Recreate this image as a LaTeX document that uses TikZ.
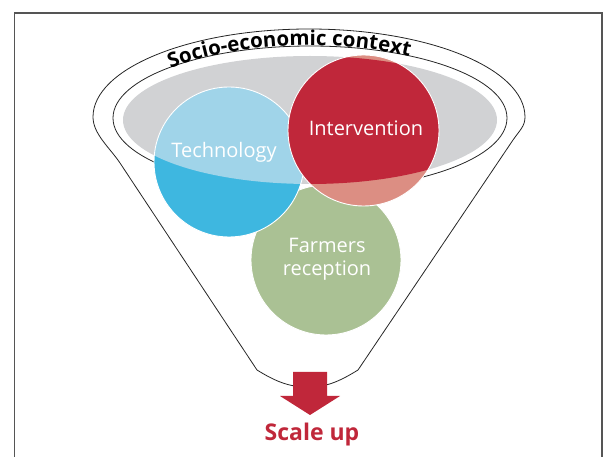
\documentclass[tikz,border=0pt]{standalone}
\usepackage{fontspec}
\setmainfont{Open Sans}
\usetikzlibrary{decorations.text}
\definecolor{grayell}{HTML}{D1D2D4}
\definecolor{bluedark}{HTML}{3EB7E0}
\definecolor{bluelight}{HTML}{A0D4E9}
\definecolor{redc}{HTML}{C0273A}
\definecolor{salmon}{HTML}{DC8E83}
\definecolor{greenc}{HTML}{AAC194}
\definecolor{framec}{HTML}{555555}
\tikzset{
  circ/.style={circle, minimum size=150pt, inner sep=0pt},
  circout/.style={draw=white, line width=0.9pt},
  lbl/.style={text=white, font=\fontsize{20}{23}\selectfont, align=center, inner sep=0pt},
  funnelline/.style={draw=black!85, line width=0.8pt},
  framebox/.style={draw=framec, line width=1.2pt},
}
\begin{document}
\begin{tikzpicture}[x=1pt,y=-1pt]
\useasboundingbox (0,0) rectangle (606,457);
\begin{scope}
\clip (0,0) rectangle (606,457);
\draw[framebox] (14.5,13) rectangle (602,480);
\end{scope}
% funnel outline
\draw[funnelline] (257,370) -- (120,163) .. controls (110,148) and (93,134) .. (93,117)
  arc[start angle=180, end angle=360, x radius=216, y radius=88]
  .. controls (525,126) and (520,130) .. (513,140) -- (358,370)
  .. controls (337,383) and (325,387) .. (308,387)
  .. controls (291,387) and (278,383) .. (257,370) -- cycle;
% inner ring and grey ellipse
\draw[funnelline] (310,118) ellipse[x radius=197, y radius=72];
\fill[grayell] (310,120) ellipse[x radius=187, y radius=64];
% title along the arc
\path[decorate, decoration={text along path, text align=center,
  text={|\fontsize{20.5}{20.5}\selectfont\bfseries|Socio-economic context}}]
  (167.8,69.5) arc[start angle=222, end angle=303, x radius=190, y radius=73];
% Farmers reception
\node[circ, fill=greenc] (farm) at (326,260) {};
\draw[circout] (farm.center) circle[radius=75];
% Technology
\node[circ, fill=bluedark] (tech) at (229,162) {};
\begin{scope}
\clip (tech.center) circle[radius=75];
\fill[bluelight] (310,120) ellipse[x radius=187, y radius=64];
\end{scope}
\draw[circout] (tech.center) circle[radius=75];
% Intervention
\node[circ, fill=salmon, minimum size=151pt] (inter) at (363.5,130.5) {};
\begin{scope}
\clip (inter.center) circle[radius=75.5];
\fill[redc] (310,120) ellipse[x radius=187, y radius=64];
\end{scope}
\draw[circout] (inter.center) circle[radius=75.5];
% labels
\node[lbl] (techlbl) at (224,152.5) {Technology};
\node[lbl] (interlbl) at (366,128) {Intervention};
\node[lbl] (farmlbl) at (327,259.5) {Farmers\\reception};
% arrow and scale up
\fill[redc] (293,372) -- (327,372) -- (327,396) -- (340,396) -- (310,415)
  -- (280,396) -- (293,396) -- cycle;
\node[anchor=base, text=redc, font=\fontsize{23}{23}\selectfont\bfseries, inner sep=0pt]
  (scale) at (312,441) {Scale up};
\end{tikzpicture}
\end{document}
